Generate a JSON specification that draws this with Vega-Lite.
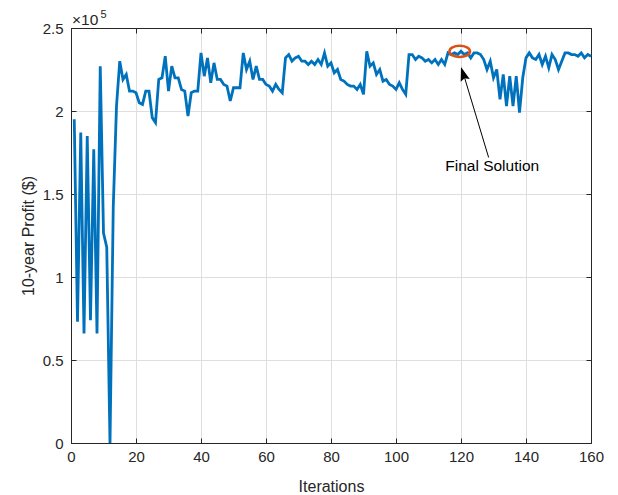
{
  "$schema": "https://vega.github.io/schema/vega-lite/v6.json",
  "width": 520,
  "height": 415,
  "autosize": {"type": "none"},
  "padding": {"left": 71, "top": 28, "right": 27, "bottom": 52},
  "background": "white",
  "config": {
    "font": "Liberation Sans",
    "view": {"stroke": "#262626", "strokeWidth": 1},
    "axis": {
      "domainColor": "#262626",
      "tickColor": "#262626",
      "labelColor": "#262626",
      "titleColor": "#262626",
      "labelFont": "Liberation Sans",
      "titleFont": "Liberation Sans",
      "labelFontSize": 15,
      "titleFontSize": 16,
      "titleFontWeight": "normal",
      "gridColor": "#dedede",
      "gridOpacity": 1
    }
  },
  "resolve": {"axis": {"x": "independent", "y": "independent"}},
  "layer": [
    {
      "data": {"values": [
        {"iter":1,"profit":195000},{"iter":2,"profit":73000},{"iter":3,"profit":187000},{"iter":4,"profit":66000},{"iter":5,"profit":185000},
        {"iter":6,"profit":74000},{"iter":7,"profit":177000},{"iter":8,"profit":66000},{"iter":9,"profit":227000},{"iter":10,"profit":126500},
        {"iter":11,"profit":118000},{"iter":12,"profit":0},{"iter":13,"profit":142000},{"iter":14,"profit":203000},{"iter":15,"profit":230000},
        {"iter":16,"profit":219000},{"iter":17,"profit":222000},{"iter":18,"profit":212000},{"iter":19,"profit":212000},{"iter":20,"profit":211000},
        {"iter":21,"profit":205000},{"iter":22,"profit":204000},{"iter":23,"profit":212000},{"iter":24,"profit":212000},{"iter":25,"profit":196000},
        {"iter":26,"profit":193000},{"iter":27,"profit":219000},{"iter":28,"profit":220000},{"iter":29,"profit":233000},{"iter":30,"profit":212000},
        {"iter":31,"profit":227000},{"iter":32,"profit":220000},{"iter":33,"profit":220000},{"iter":34,"profit":213000},{"iter":35,"profit":212000},
        {"iter":36,"profit":197000},{"iter":37,"profit":211000},{"iter":38,"profit":212000},{"iter":39,"profit":212000},{"iter":40,"profit":235000},
        {"iter":41,"profit":221000},{"iter":42,"profit":232000},{"iter":43,"profit":217000},{"iter":44,"profit":229000},{"iter":45,"profit":219000},
        {"iter":46,"profit":219000},{"iter":47,"profit":216000},{"iter":48,"profit":215000},{"iter":49,"profit":206000},{"iter":50,"profit":214000},
        {"iter":51,"profit":214000},{"iter":52,"profit":214000},{"iter":53,"profit":235000},{"iter":54,"profit":225000},{"iter":55,"profit":230000},
        {"iter":56,"profit":219000},{"iter":57,"profit":227000},{"iter":58,"profit":219000},{"iter":59,"profit":219000},{"iter":60,"profit":216000},
        {"iter":61,"profit":215000},{"iter":62,"profit":212000},{"iter":63,"profit":216000},{"iter":64,"profit":213000},{"iter":65,"profit":211000},
        {"iter":66,"profit":232000},{"iter":67,"profit":234000},{"iter":68,"profit":230000},{"iter":69,"profit":232000},{"iter":70,"profit":233000},
        {"iter":71,"profit":230000},{"iter":72,"profit":230000},{"iter":73,"profit":228000},{"iter":74,"profit":230000},{"iter":75,"profit":228000},
        {"iter":76,"profit":231000},{"iter":77,"profit":228000},{"iter":78,"profit":235000},{"iter":79,"profit":227000},{"iter":80,"profit":229000},
        {"iter":81,"profit":223000},{"iter":82,"profit":225000},{"iter":83,"profit":219000},{"iter":84,"profit":218000},{"iter":85,"profit":216000},
        {"iter":86,"profit":215000},{"iter":87,"profit":215000},{"iter":88,"profit":213000},{"iter":89,"profit":216000},{"iter":90,"profit":210000},
        {"iter":91,"profit":236000},{"iter":92,"profit":227000},{"iter":93,"profit":229000},{"iter":94,"profit":222000},{"iter":95,"profit":225000},
        {"iter":96,"profit":218000},{"iter":97,"profit":219000},{"iter":98,"profit":216000},{"iter":99,"profit":215000},{"iter":100,"profit":213000},
        {"iter":101,"profit":217000},{"iter":102,"profit":213000},{"iter":103,"profit":210000},{"iter":104,"profit":234000},{"iter":105,"profit":234000},
        {"iter":106,"profit":231000},{"iter":107,"profit":233000},{"iter":108,"profit":232000},{"iter":109,"profit":230000},{"iter":110,"profit":231000},
        {"iter":111,"profit":229000},{"iter":112,"profit":231000},{"iter":113,"profit":228000},{"iter":114,"profit":231000},{"iter":115,"profit":228000},
        {"iter":116,"profit":235000},{"iter":117,"profit":234000},{"iter":118,"profit":235000},{"iter":119,"profit":234000},{"iter":120,"profit":236000},
        {"iter":121,"profit":234000},{"iter":122,"profit":235000},{"iter":123,"profit":232000},{"iter":124,"profit":235000},{"iter":125,"profit":235000},
        {"iter":126,"profit":234000},{"iter":127,"profit":231000},{"iter":128,"profit":225000},{"iter":129,"profit":230000},{"iter":130,"profit":220000},
        {"iter":131,"profit":225000},{"iter":132,"profit":207000},{"iter":133,"profit":222000},{"iter":134,"profit":203000},{"iter":135,"profit":221000},
        {"iter":136,"profit":203000},{"iter":137,"profit":221000},{"iter":138,"profit":199000},{"iter":139,"profit":220000},{"iter":140,"profit":232000},
        {"iter":141,"profit":235000},{"iter":142,"profit":232000},{"iter":143,"profit":231000},{"iter":144,"profit":234000},{"iter":145,"profit":228000},
        {"iter":146,"profit":233000},{"iter":147,"profit":226000},{"iter":148,"profit":234000},{"iter":149,"profit":231000},{"iter":150,"profit":225000},
        {"iter":151,"profit":230000},{"iter":152,"profit":235000},{"iter":153,"profit":235000},{"iter":154,"profit":234000},{"iter":155,"profit":234000},
        {"iter":156,"profit":233000},{"iter":157,"profit":235000},{"iter":158,"profit":232000},{"iter":159,"profit":234000},{"iter":160,"profit":233000}
      ]},
      "mark": {"type": "line", "color": "#0072BD", "strokeWidth": 2.8, "strokeJoin": "miter"},
      "encoding": {
        "x": {"field": "iter", "type": "quantitative",
              "scale": {"domain": [0, 160], "nice": false, "zero": false},
              "axis": {"orient": "bottom", "title": "Iterations", "values": [0,20,40,60,80,100,120,140,160],
                       "tickSize": -5, "labelPadding": 11, "titlePadding": 14, "grid": true, "labelFlush": false}},
        "y": {"field": "profit", "type": "quantitative",
              "scale": {"domain": [0, 250000], "nice": false},
              "axis": {"orient": "left", "title": "10-year Profit ($)", "values": [0,50000,100000,150000,200000,250000],
                       "labelExpr": "datum.value/100000", "tickSize": -5, "labelPadding": 13, "titlePadding": 6, "grid": true}}
      }
    },
    {
      "data": {"values": [{"iter": 119.6, "profit": 235900}]},
      "mark": {"type": "point", "shape": "M -1 0 A 1 0.55 0 1 0 1 0 A 1 0.55 0 1 0 -1 0 Z", "filled": false, "stroke": "#D95319", "strokeWidth": 2.6, "size": 420, "opacity": 1},
      "encoding": {
        "x": {"field": "iter", "type": "quantitative", "axis": {"orient": "top", "title": null, "labels": false, "grid": false, "tickSize": -5, "values": [0,20,40,60,80,100,120,140,160]}},
        "y": {"field": "profit", "type": "quantitative", "axis": {"orient": "right", "title": null, "labels": false, "grid": false, "tickSize": -5, "values": [0,50000,100000,150000,200000,250000]}}
      }
    },
    {
      "data": {"values": [{"iter": 128.5, "profit": 172000, "iter2": 120.8, "profit2": 222000}]},
      "mark": {"type": "rule", "color": "#000000", "strokeWidth": 1},
      "encoding": {
        "x": {"field": "iter", "type": "quantitative", "axis": null},
        "y": {"field": "profit", "type": "quantitative", "axis": null},
        "x2": {"field": "iter2"},
        "y2": {"field": "profit2"}
      }
    },
    {
      "data": {"values": [{"iter": 120.0, "profit": 226500}]},
      "mark": {"type": "point", "shape": "M 0 0 L -0.34 1 L 0 0.85 L 0.34 1 Z", "filled": true, "color": "#000000", "size": 784, "angle": -17.5, "opacity": 1},
      "encoding": {
        "x": {"field": "iter", "type": "quantitative", "axis": null},
        "y": {"field": "profit", "type": "quantitative", "axis": null}
      }
    },
    {
      "data": {"values": [{"iter": 129.6, "profit": 167000, "label": "Final Solution"}]},
      "mark": {"type": "text", "fontSize": 15.5, "color": "#000000", "align": "center", "baseline": "middle", "font": "Liberation Sans"},
      "encoding": {
        "x": {"field": "iter", "type": "quantitative", "axis": null},
        "y": {"field": "profit", "type": "quantitative", "axis": null},
        "text": {"field": "label"}
      }
    },
    {
      "data": {"values": [{"iter": 0, "profit": 250000, "label": "×10"}]},
      "mark": {"type": "text", "fontSize": 15.5, "color": "#262626", "align": "left", "baseline": "alphabetic", "dx": 1, "dy": -3, "font": "Liberation Sans"},
      "encoding": {
        "x": {"field": "iter", "type": "quantitative", "axis": null},
        "y": {"field": "profit", "type": "quantitative", "axis": null},
        "text": {"field": "label"}
      }
    },
    {
      "data": {"values": [{"iter": 0, "profit": 250000, "label": "5"}]},
      "mark": {"type": "text", "fontSize": 11, "color": "#262626", "align": "left", "baseline": "alphabetic", "dx": 29.5, "dy": -10, "font": "Liberation Sans"},
      "encoding": {
        "x": {"field": "iter", "type": "quantitative", "axis": null},
        "y": {"field": "profit", "type": "quantitative", "axis": null},
        "text": {"field": "label"}
      }
    }
  ]
}
